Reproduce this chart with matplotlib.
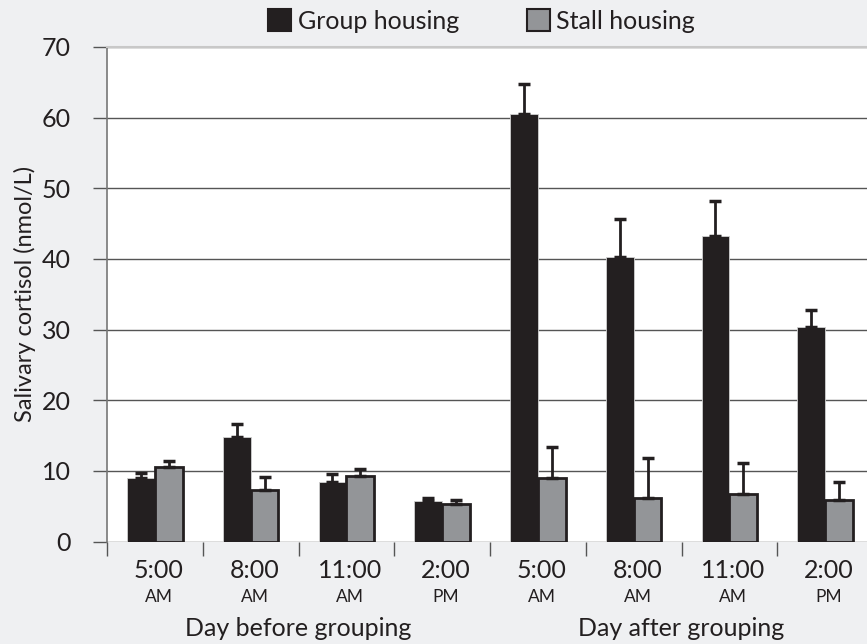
import matplotlib.pyplot as plt
import matplotlib.transforms as mtransforms
from matplotlib.patches import Patch
import numpy as np

plt.rcParams['font.family'] = ['Lato', 'DejaVu Sans']

times = ["5:00", "8:00", "11:00", "2:00", "5:00", "8:00", "11:00", "2:00"]
periods = ["AM", "AM", "AM", "PM", "AM", "AM", "AM", "PM"]
days = ["Day before grouping", "Day after grouping"]

group_mean = [9.0, 14.8, 8.5, 5.7, 60.5, 40.2, 43.3, 30.3]
group_err = [0.7, 1.9, 1.1, 0.5, 4.3, 5.5, 4.9, 2.5]
stall_mean = [10.6, 7.3, 9.3, 5.4, 9.0, 6.2, 6.7, 5.9]
stall_err = [0.8, 1.9, 1.0, 0.5, 4.4, 5.7, 4.5, 2.5]

dark = "#231f20"
grey = "#939598"
bg = "#eff0f2"

fig = plt.figure(figsize=(8.67, 6.44), dpi=100, facecolor=bg)
ax = fig.add_axes([107/867, 1 - 541.7/644, 766/867, (541.7 - 46.8)/644])
ax.set_facecolor("white")

x = np.arange(len(times))
w = 0.29
zeros = np.zeros(len(x))
ax.bar(x - w/2, group_mean, width=w, color=dark, edgecolor="#d0d0d0", linewidth=0.6, zorder=3)
ax.bar(x + w/2, stall_mean, width=w, color=grey, edgecolor=dark, linewidth=2, zorder=3)
ax.errorbar(x - w/2, group_mean, yerr=[zeros, group_err], fmt="none", ecolor=dark,
            elinewidth=2, capsize=4, capthick=2.5, zorder=4)
ax.errorbar(x + w/2, stall_mean, yerr=[zeros, stall_err], fmt="none", ecolor=dark,
            elinewidth=2, capsize=4, capthick=2.5, zorder=4)

ax.set_xlim(-0.5, 7.5)
ax.set_ylim(0, 70)
ax.set_yticks(range(0, 71, 10))
ax.yaxis.grid(True, color="#555555", linewidth=1)
ax.set_axisbelow(True)

for s in ["right", "bottom"]:
    ax.spines[s].set_visible(False)
ax.spines["top"].set_color("#c8c8c8")
ax.spines["top"].set_linewidth(1.5)
ax.spines["left"].set_color("#777777")
ax.spines["left"].set_linewidth(1.2)

ax.tick_params(axis="y", direction="out", length=10, width=1, color="#555555",
               labelsize=18, pad=16, labelcolor=dark)
ax.set_xticks(x)
ax.set_xticks(np.arange(-0.5, 8, 1), minor=True)
ax.tick_params(axis="x", which="major", length=0, labelbottom=False)
ax.tick_params(axis="x", which="minor", direction="out", length=10, width=1, color="#555555")

ax.set_ylabel("Salivary cortisol (nmol/L)", fontsize=17, color=dark)
ax.yaxis.set_label_coords(-0.093, 0.5)

trans = mtransforms.blended_transform_factory(ax.transData, fig.transFigure)
for xi, t, p in zip(x, times, periods):
    ax.text(xi + 0.04, 1 - 571/644, t, transform=trans, ha="center", va="center",
            fontsize=18, color=dark)
    ax.text(xi + 0.04, 1 - 597/644, p, transform=trans, ha="center", va="center",
            fontsize=12.5, color=dark)
ax.text(1.5, 1 - 628/644, days[0], transform=trans, ha="center", va="center",
        fontsize=18, color=dark)
ax.text(5.5, 1 - 628/644, days[1], transform=trans, ha="center", va="center",
        fontsize=18, color=dark)

handles = [Patch(facecolor=dark, edgecolor=dark, linewidth=1.5, label="Group housing"),
           Patch(facecolor=grey, edgecolor=dark, linewidth=1.5, label="Stall housing")]
leg = fig.legend(handles=handles, loc="center", bbox_to_anchor=(481.5/867, 1 - 21/644), ncol=2,
                 frameon=False, fontsize=18, handlelength=0.95, handleheight=0.95,
                 handletextpad=0.25, columnspacing=2.7, borderpad=0.2)
for t in leg.get_texts():
    t.set_color(dark)

fig.savefig("out.png", dpi=100, facecolor=bg)
